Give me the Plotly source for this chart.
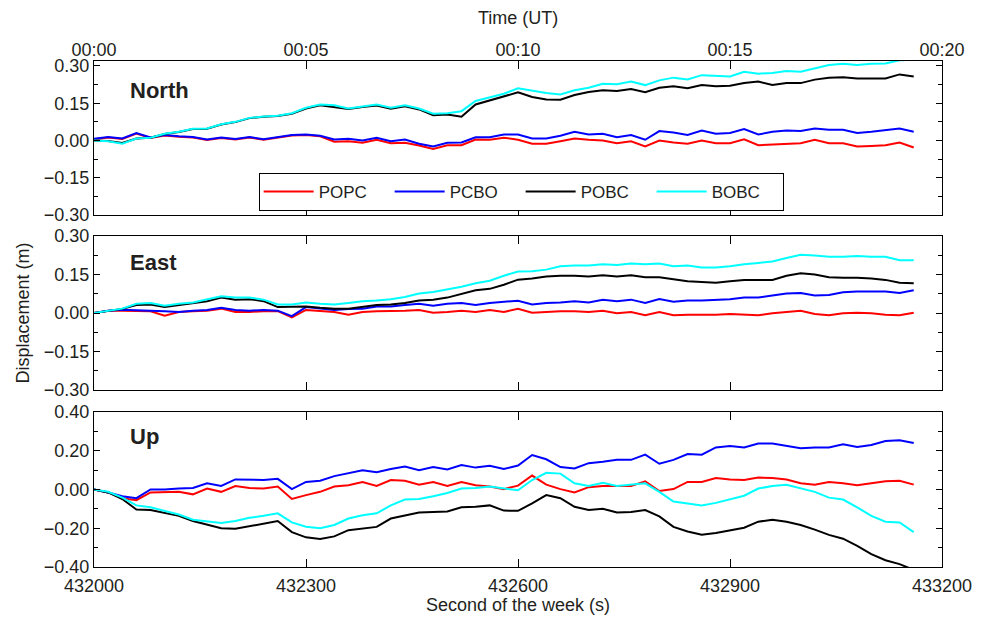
import plotly.graph_objects as go

# ---------------- data ----------------
seconds = [432000, 432020, 432040, 432060, 432080, 432100, 432120, 432140, 432160, 432180,
           432200, 432220, 432240, 432260, 432280, 432300, 432320, 432340, 432360, 432380,
           432400, 432420, 432440, 432460, 432480, 432500, 432520, 432540, 432560, 432580,
           432600, 432620, 432640, 432660, 432680, 432700, 432720, 432740, 432760, 432780,
           432800, 432820, 432840, 432860, 432880, 432900, 432920, 432940, 432960, 432980,
           433000, 433020, 433040, 433060, 433080, 433100, 433120, 433140, 433160]

series_names = ["POPC", "PCBO", "POBC", "BOBC"]
series_colors = ["#ff0000", "#0000ff", "#000000", "#00ffff"]

north_popc = [0.005, 0.012, 0.006, 0.028, 0.010, 0.020, 0.015, 0.012, 0.002, 0.010,
              0.004, 0.012, 0.003, 0.010, 0.020, 0.022, 0.017, -0.005, -0.003, -0.009,
              0.003, -0.011, -0.009, -0.020, -0.034, -0.019, -0.019, 0.004, 0.003, 0.011,
              0.003, -0.013, -0.013, -0.003, 0.008, 0.003, 0.000, -0.011, -0.003, -0.024,
              0.000, -0.008, -0.013, 0.000, -0.011, -0.011, 0.005, -0.019, -0.016, -0.011,
              -0.011, 0.003, -0.011, -0.011, -0.024, -0.022, -0.019, -0.008, -0.028]
north_pcbo = [0.007, 0.014, 0.008, 0.030, 0.012, 0.022, 0.017, 0.014, 0.004, 0.012,
              0.006, 0.014, 0.005, 0.012, 0.022, 0.024, 0.019, 0.004, 0.007, 0.000,
              0.011, -0.003, 0.004, -0.013, -0.024, -0.009, -0.008, 0.013, 0.013, 0.024,
              0.024, 0.008, 0.008, 0.019, 0.035, 0.024, 0.027, 0.013, 0.022, 0.003,
              0.038, 0.032, 0.022, 0.040, 0.027, 0.030, 0.046, 0.024, 0.035, 0.040,
              0.038, 0.048, 0.043, 0.043, 0.030, 0.035, 0.040, 0.048, 0.035]
north_pobc = [0.000, -0.002, -0.010, 0.008, 0.011, 0.026, 0.034, 0.046, 0.047, 0.064,
              0.074, 0.090, 0.096, 0.099, 0.108, 0.129, 0.142, 0.136, 0.127, 0.135,
              0.141, 0.128, 0.138, 0.125, 0.102, 0.105, 0.096, 0.145, 0.161, 0.179,
              0.194, 0.175, 0.165, 0.164, 0.183, 0.195, 0.202, 0.199, 0.207, 0.194,
              0.212, 0.218, 0.210, 0.223, 0.218, 0.220, 0.231, 0.237, 0.223, 0.231,
              0.231, 0.245, 0.253, 0.255, 0.250, 0.250, 0.250, 0.266, 0.258]
north_bobc = [0.000, -0.003, -0.013, 0.008, 0.011, 0.027, 0.035, 0.047, 0.048, 0.065,
              0.075, 0.091, 0.097, 0.100, 0.110, 0.132, 0.145, 0.142, 0.129, 0.138,
              0.145, 0.132, 0.142, 0.129, 0.108, 0.110, 0.118, 0.159, 0.172, 0.188,
              0.210, 0.199, 0.191, 0.185, 0.202, 0.212, 0.228, 0.226, 0.237, 0.223,
              0.242, 0.253, 0.246, 0.263, 0.259, 0.258, 0.277, 0.269, 0.272, 0.280,
              0.277, 0.290, 0.304, 0.309, 0.304, 0.309, 0.310, 0.323, 0.325]

east_popc = [0.000, 0.009, 0.009, 0.007, 0.007, -0.011, 0.004, 0.007, 0.009, 0.017,
             0.004, 0.004, 0.007, 0.007, -0.017, 0.012, 0.009, 0.004, -0.007, 0.004,
             0.007, 0.007, 0.009, 0.012, 0.001, 0.004, 0.009, 0.004, 0.012, 0.004,
             0.016, 0.001, 0.004, 0.007, 0.007, 0.004, 0.009, -0.001, 0.004, -0.009,
             0.004, -0.009, -0.007, -0.007, -0.007, -0.004, -0.007, -0.009, -0.001, 0.004,
             0.009, -0.004, -0.009, -0.001, 0.001, -0.001, -0.007, -0.009, 0.001]
east_pcbo = [0.000, 0.009, 0.013, 0.012, 0.009, 0.007, 0.004, 0.009, 0.012, 0.020,
             0.012, 0.009, 0.012, 0.009, -0.012, 0.023, 0.017, 0.012, 0.016, 0.017,
             0.025, 0.025, 0.031, 0.036, 0.028, 0.036, 0.039, 0.031, 0.039, 0.044,
             0.048, 0.033, 0.039, 0.041, 0.046, 0.041, 0.052, 0.046, 0.052, 0.039,
             0.054, 0.044, 0.049, 0.049, 0.052, 0.054, 0.060, 0.060, 0.068, 0.076,
             0.078, 0.068, 0.070, 0.081, 0.084, 0.084, 0.084, 0.078, 0.089]
east_pobc = [0.000, 0.009, 0.016, 0.031, 0.033, 0.023, 0.031, 0.039, 0.046, 0.060,
             0.052, 0.054, 0.046, 0.023, 0.023, 0.025, 0.020, 0.017, 0.017, 0.023,
             0.031, 0.033, 0.039, 0.049, 0.052, 0.060, 0.076, 0.089, 0.094, 0.110,
             0.130, 0.134, 0.142, 0.145, 0.145, 0.142, 0.147, 0.142, 0.147, 0.139,
             0.139, 0.131, 0.124, 0.121, 0.118, 0.124, 0.129, 0.129, 0.129, 0.145,
             0.155, 0.150, 0.139, 0.137, 0.137, 0.134, 0.129, 0.118, 0.116]
east_bobc = [0.000, 0.009, 0.017, 0.036, 0.039, 0.028, 0.036, 0.041, 0.054, 0.065,
             0.060, 0.060, 0.052, 0.033, 0.033, 0.041, 0.036, 0.033, 0.039, 0.046,
             0.049, 0.054, 0.062, 0.076, 0.082, 0.092, 0.102, 0.116, 0.126, 0.145,
             0.162, 0.163, 0.169, 0.182, 0.185, 0.185, 0.190, 0.187, 0.193, 0.190,
             0.193, 0.182, 0.185, 0.177, 0.177, 0.182, 0.190, 0.195, 0.201, 0.214,
             0.227, 0.224, 0.219, 0.219, 0.222, 0.219, 0.219, 0.206, 0.206]

up_popc = [0.000, -0.015, -0.045, -0.055, -0.015, -0.015, -0.012, -0.025, 0.005, -0.012,
           0.018, 0.008, 0.005, 0.015, -0.049, -0.029, -0.012, 0.015, 0.022, 0.039,
           0.018, 0.049, 0.045, 0.025, 0.039, 0.018, 0.039, 0.022, 0.015, 0.002,
           0.020, 0.072, 0.025, 0.002, -0.015, 0.012, 0.018, 0.018, 0.018, 0.042,
           -0.008, 0.002, 0.039, 0.039, 0.059, 0.052, 0.049, 0.062, 0.059, 0.052,
           0.032, 0.025, 0.039, 0.032, 0.022, 0.032, 0.042, 0.045, 0.025]
up_pcbo = [0.000, -0.015, -0.035, -0.045, 0.000, 0.000, 0.005, 0.008, 0.032, 0.018,
           0.052, 0.049, 0.049, 0.055, 0.002, 0.039, 0.045, 0.069, 0.086, 0.099,
           0.089, 0.106, 0.119, 0.099, 0.116, 0.103, 0.126, 0.113, 0.123, 0.106,
           0.124, 0.178, 0.156, 0.116, 0.109, 0.136, 0.143, 0.153, 0.153, 0.180,
           0.133, 0.153, 0.183, 0.180, 0.217, 0.224, 0.217, 0.237, 0.237, 0.224,
           0.213, 0.217, 0.217, 0.234, 0.220, 0.230, 0.250, 0.254, 0.240]
up_pobc = [0.000, -0.015, -0.049, -0.103, -0.106, -0.123, -0.136, -0.163, -0.183, -0.200,
           -0.203, -0.190, -0.176, -0.163, -0.220, -0.247, -0.255, -0.242, -0.210, -0.200,
           -0.193, -0.150, -0.133, -0.119, -0.116, -0.113, -0.092, -0.089, -0.082, -0.109,
           -0.110, -0.072, -0.029, -0.045, -0.089, -0.106, -0.099, -0.119, -0.116, -0.106,
           -0.139, -0.193, -0.217, -0.234, -0.224, -0.210, -0.197, -0.166, -0.156, -0.166,
           -0.183, -0.207, -0.234, -0.254, -0.291, -0.334, -0.365, -0.385, -0.415]
up_bobc = [0.000, -0.012, -0.042, -0.082, -0.092, -0.109, -0.129, -0.156, -0.163, -0.173,
           -0.163, -0.146, -0.136, -0.123, -0.170, -0.192, -0.200, -0.183, -0.150, -0.133,
           -0.123, -0.082, -0.052, -0.049, -0.035, -0.018, 0.005, 0.008, 0.015, 0.005,
           -0.004, 0.049, 0.086, 0.082, 0.032, 0.018, 0.035, 0.018, 0.025, 0.032,
           -0.012, -0.062, -0.072, -0.082, -0.069, -0.049, -0.032, 0.005, 0.018, 0.025,
           0.008, -0.012, -0.042, -0.052, -0.092, -0.136, -0.166, -0.170, -0.220]

panels = [
    ("North", [north_popc, north_pcbo, north_pobc, north_bobc]),
    ("East", [east_popc, east_pcbo, east_pobc, east_bobc]),
    ("Up", [up_popc, up_pcbo, up_pobc, up_bobc]),
]

x_tickvals = [432000, 432300, 432600, 432900, 433200]
x_ticktext_bottom = ["432000", "432300", "432600", "432900", "433200"]
x_ticktext_top = ["00:00", "00:05", "00:10", "00:15", "00:20"]

# ---------------- layout geometry ----------------
W, H = 984, 620
ML, MR, MT, MB = 94, 35, 61, 53
PH = H - MT - MB
PW = W - ML - MR

def py(p):  # pixel y -> paper y
    return (H - MB - p) / PH

def px(p):  # pixel x -> paper x
    return (p - ML) / PW

domains = [(py(215), 1.0), (py(390), py(236)), (0.0, py(412))]
y_ranges = [[-0.30, 0.32], [-0.30, 0.30], [-0.40, 0.40]]
y_dticks = [0.15, 0.15, 0.20]

FONT = "Liberation Sans, Arial, Helvetica, sans-serif"
TXT = "#231f20"

fig = go.Figure()
for i, (pname, vals) in enumerate(panels):
    sfx = "" if i == 0 else str(i + 1)
    for j, v in enumerate(vals):
        fig.add_trace(go.Scatter(
            x=seconds, y=v, mode="lines", name=series_names[j],
            line=dict(color=series_colors[j], width=2),
            xaxis="x" + sfx, yaxis="y" + sfx,
            showlegend=(i == 0), legendgroup=series_names[j],
        ))

layout = dict(
    width=W, height=H,
    margin=dict(l=ML, r=MR, t=MT, b=MB),
    paper_bgcolor="white", plot_bgcolor="white",
    font=dict(family=FONT, size=18, color=TXT),
    showlegend=True,
    legend=dict(
        orientation="h", x=px(260), y=py(173), xanchor="left", yanchor="top",
        bgcolor="white", bordercolor="black", borderwidth=1,
        font=dict(size=17, family=FONT, color=TXT),
        entrywidth=66, entrywidthmode="pixels",
        itemwidth=50,
    ),
)

for i in range(3):
    sfx = "" if i == 0 else str(i + 1)
    xa = dict(
        domain=[0, 1], range=[432000, 433200], anchor="y" + sfx,
        showline=True, linecolor="black", linewidth=1.2, mirror="ticks",
        ticks="inside", ticklen=8, tickcolor="black", tickwidth=1,
        tickvals=x_tickvals, showgrid=False, zeroline=False,
        tickfont=dict(size=18, family=FONT, color=TXT),
    )
    if i == 0:
        xa.update(side="top", ticktext=x_ticktext_top, showticklabels=True,
                  ticklabelstandoff=-3)
    elif i == 1:
        xa.update(showticklabels=False)
    else:
        xa.update(ticktext=x_ticktext_bottom, showticklabels=True,
                  ticklabelstandoff=2)
    ya = dict(
        domain=list(domains[i]), range=y_ranges[i], anchor="x" + sfx,
        showline=True, linecolor="black", linewidth=1.2, mirror="ticks",
        ticks="inside", ticklen=6, tickcolor="black", tickwidth=1,
        tick0=0, dtick=y_dticks[i], tickformat=".2f",
        showgrid=False, zeroline=False,
        tickfont=dict(size=18, family=FONT, color=TXT),
        minor=dict(dtick=y_dticks[i] / 2, tick0=0, ticks="inside", ticklen=4,
                   tickcolor="black", showgrid=False),
    )
    layout["xaxis" + sfx] = xa
    layout["yaxis" + sfx] = ya

annotations = []
for (pname, _), ycen in zip(panels, [90, 262, 437]):
    annotations.append(dict(
        text="<b>%s</b>" % pname, x=px(128), y=py(ycen), xref="paper", yref="paper",
        xanchor="left", yanchor="middle", showarrow=False,
        font=dict(size=22, family=FONT, color=TXT),
    ))
annotations.append(dict(text="Time (UT)", x=px(521), y=py(18), xref="paper", yref="paper",
                        xanchor="center", yanchor="middle", showarrow=False,
                        font=dict(size=18, family=FONT, color=TXT)))
annotations.append(dict(text="Second of the week (s)", x=px(521), y=py(605), xref="paper",
                        yref="paper", xanchor="center", yanchor="middle", showarrow=False,
                        font=dict(size=18, family=FONT, color=TXT)))
annotations.append(dict(text="Displacement (m)", x=px(22), y=py(313), xref="paper",
                        yref="paper", xanchor="center", yanchor="middle", showarrow=False,
                        textangle=-90, font=dict(size=18, family=FONT, color=TXT)))
layout["annotations"] = annotations

fig.update_layout(**layout)
fig.write_html("out.html")
